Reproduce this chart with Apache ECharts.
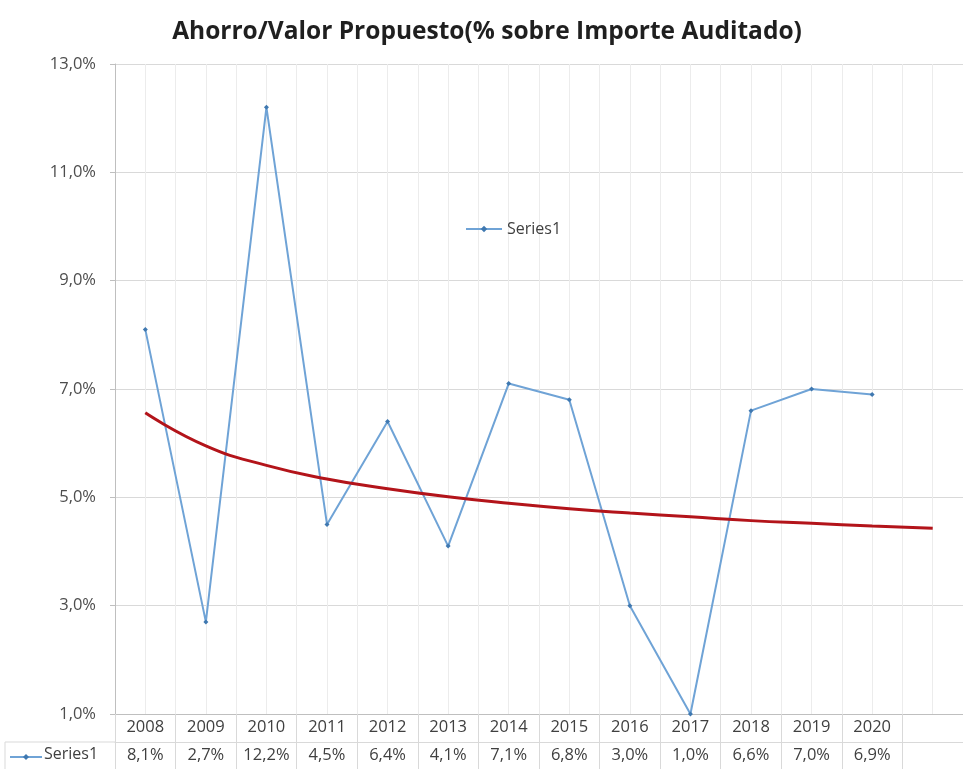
<!DOCTYPE html>
<html>
<head>
<meta charset="utf-8">
<script src="https://cdn.jsdelivr.net/npm/echarts@6/dist/echarts.min.js"></script>
<style>
  html, body { margin: 0; padding: 0; background: #fff; }
  #chart { width: 963px; height: 769px; }
</style>
</head>
<body>
<div id="chart"></div>
<script>
// años (la última categoría queda vacía, como en el gráfico original)
var years = ['2008', '2009', '2010', '2011', '2012', '2013', '2014', '2015', '2016', '2017', '2018', '2019', '2020', ''];
// Series1: ahorro / valor propuesto en %
var series1 = [8.1, 2.7, 12.2, 4.5, 6.4, 4.1, 7.1, 6.8, 3.0, 1.0, 6.6, 7.0, 6.9];
// línea de tendencia (llega hasta la categoría vacía)
var trend = [6.56, 5.95, 5.59, 5.34, 5.16, 5.01, 4.89, 4.79, 4.71, 4.64, 4.57, 4.52, 4.47, 4.43];
var yTicks = { min: 1, max: 13, step: 2 };

function pct(v) {
  return v.toFixed(1).replace('.', ',') + '%';
}
var tableRow = series1.map(pct).concat(['']);

var gridColor = '#d9d9d9';
var textColor = '#404040';

var mycharts = echarts.init(document.getElementById('chart'));
var options = {
  backgroundColor: '#fff',
  animation: false,
  title: {
    text: 'Ahorro/Valor Propuesto(% sobre Importe Auditado)',
    left: 482,
    textAlign: 'center',
    top: 15,
    textStyle: { fontFamily: 'Open Sans', fontWeight: 'bold', fontSize: 24.5, color: '#1f1f1f' }
  },
  legend: {
    left: 460,
    top: 216,
    itemWidth: 36,
    itemHeight: 8,
    itemGap: 4,
    data: ['Series1'],
    textStyle: { fontFamily: 'Open Sans', fontSize: 16, color: textColor }
  },
  grid: { left: 115, top: 64, width: 859, height: 650 },
  xAxis: [{
    type: 'category',
    data: years,
    boundaryGap: true,
    axisLine: { lineStyle: { color: '#bfbfbf' } },
    axisTick: { show: true, length: 28, lineStyle: { color: gridColor } },
    axisLabel: { margin: 5, fontFamily: 'Open Sans', fontSize: 16.5, color: textColor },
    splitLine: { show: false }
  }, {
    type: 'category',
    data: tableRow,
    position: 'bottom',
    offset: 28,
    boundaryGap: true,
    axisLine: { lineStyle: { color: gridColor } },
    axisTick: { show: true, length: 28, lineStyle: { color: gridColor } },
    axisLabel: { margin: 5, fontFamily: 'Open Sans', fontSize: 16.5, color: textColor }
  }, {
    // líneas verticales finas cada media categoría
    type: 'value',
    min: 0,
    max: 28,
    interval: 1,
    position: 'top',
    axisLine: { show: false },
    axisTick: { show: false },
    axisLabel: { show: false },
    splitLine: { show: true, lineStyle: { color: '#ececec' } }
  }],
  yAxis: {
    type: 'value',
    min: yTicks.min,
    max: yTicks.max,
    interval: yTicks.step,
    axisLine: { show: true, lineStyle: { color: '#bfbfbf' } },
    axisTick: { show: true, length: 5, lineStyle: { color: '#bfbfbf' } },
    axisLabel: {
      margin: 19,
      fontFamily: 'Open Sans',
      fontSize: 16.5,
      color: '#4d4d4d',
      formatter: pct
    },
    splitLine: { show: true, lineStyle: { color: gridColor } }
  },
  series: [{
    name: 'Series1',
    type: 'line',
    xAxisIndex: 0,
    data: series1,
    symbol: 'diamond',
    symbolSize: 5,
    lineStyle: { color: '#6fa3d6', width: 2 },
    itemStyle: { color: '#3f78b0' }
  }, {
    name: 'tendencia',
    type: 'line',
    xAxisIndex: 0,
    data: trend,
    smooth: true,
    showSymbol: false,
    lineStyle: { color: '#b3141a', width: 3 },
    z: 3
  }],
  graphic: [
    // parte izquierda de la tabla de datos (clave de leyenda)
    { type: 'line', shape: { x1: 5, y1: 742, x2: 115, y2: 742 }, style: { stroke: gridColor } },
    { type: 'line', shape: { x1: 5, y1: 742, x2: 5, y2: 769 }, style: { stroke: gridColor } },
    { type: 'line', shape: { x1: 10, y1: 757, x2: 42, y2: 757 }, style: { stroke: '#6fa3d6', lineWidth: 2 } },
    { type: 'polygon', shape: { points: [[26, 754], [29, 757], [26, 760], [23, 757]] }, style: { fill: '#3f78b0' } },
    { type: 'text', left: 44, top: 746, style: { text: 'Series1', font: '16px "Open Sans"', fill: textColor } }
  ]
};
mycharts.setOption(options);
</script>
</body>
</html>
